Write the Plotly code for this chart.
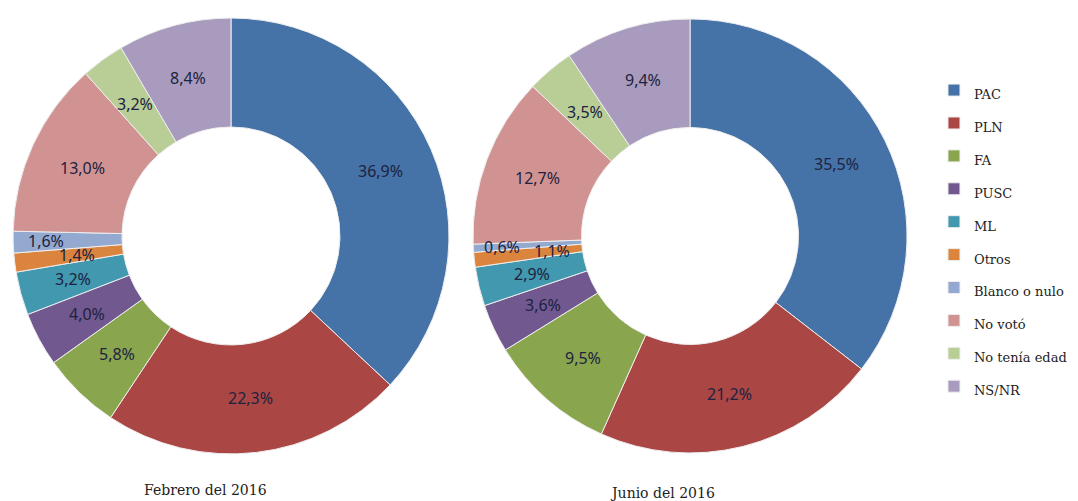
import math
import plotly.graph_objects as go

partidos = ['PAC', 'PLN', 'FA', 'PUSC', 'ML', 'Otros', 'Blanco o nulo',
            'No votó', 'No tenía edad', 'NS/NR']
febrero = [36.9, 22.3, 5.8, 4.0, 3.2, 1.4, 1.6, 13.0, 3.2, 8.4]
junio = [35.5, 21.2, 9.5, 3.6, 2.9, 1.1, 0.6, 12.7, 3.5, 9.4]
titulos = ['Febrero del 2016', 'Junio del 2016']

colores = ['#4572A7', '#AA4643', '#89A54E', '#71588F', '#4198AF',
           '#DB843D', '#93A9CF', '#D19392', '#B9CD96', '#A99BBD']

W, H = 1078, 501
HOLE = 0.5
dom_y = [0.094, 0.964]
dom_x = [[0.0121, 0.4165], [0.4388, 0.8414]]
# labels that Excel pushed in/out of the middle of the ring (fraction of radius)
ajuste = [{6: 0.1, 5: -0.04}, {6: 0.12, 5: -0.11}]


def fmt(v):
    return '{:.1f}%'.format(v).replace('.', ',')


def dona(vals, xdom, show):
    return go.Pie(
        labels=["<span style='font-size:13px'>" + p + "</span>" for p in partidos],
        values=vals,
        textinfo='none',
        hoverinfo='percent',
        hole=HOLE,
        sort=False,
        direction='clockwise',
        rotation=0,
        marker=dict(colors=colores, line=dict(color='#eeeeee', width=1)),
        domain=dict(x=xdom, y=dom_y),
        showlegend=show,
    )


def etiquetas(vals, xdom, extra):
    # place each label at the middle of its ring segment
    cx = (xdom[0] + xdom[1]) / 2 * W
    cy = (1 - (dom_y[0] + dom_y[1]) / 2) * H
    R = min((xdom[1] - xdom[0]) * W, (dom_y[1] - dom_y[0]) * H) / 2
    total = sum(vals)
    acc = 0
    out = []
    for i, v in enumerate(vals):
        ang = (acc + v / 2) / total * 2 * math.pi
        acc += v
        r = R * ((1 + HOLE) / 2 + extra.get(i, 0))
        x = cx + r * math.sin(ang)
        y = cy - r * math.cos(ang)
        out.append(dict(
            text=fmt(v), x=x / W, y=1 - y / H, xref='paper', yref='paper',
            xanchor='center', yanchor='middle', showarrow=False,
            font=dict(family='Noto Sans', size=16, color='#1d2240'),
        ))
    return out


fig = go.Figure()
fig.add_trace(dona(febrero, dom_x[0], True))
fig.add_trace(dona(junio, dom_x[1], False))

anots = etiquetas(febrero, dom_x[0], ajuste[0]) + etiquetas(junio, dom_x[1], ajuste[1])
anots += [
    dict(text=titulos[0], x=205 / W, y=1 - 490 / H, xref='paper', yref='paper',
         xanchor='center', yanchor='middle', showarrow=False,
         font=dict(family='DejaVu Serif', size=14, color='#222')),
    dict(text=titulos[1], x=662 / W, y=1 - 493 / H, xref='paper', yref='paper',
         xanchor='center', yanchor='middle', showarrow=False,
         font=dict(family='DejaVu Serif', size=14, color='#222')),
]

fig.update_layout(
    width=W,
    height=H,
    margin=dict(l=0, r=0, t=0, b=0),
    paper_bgcolor='white',
    plot_bgcolor='white',
    legend=dict(
        x=0.8664, y=0.863, xanchor='left', yanchor='top',
        font=dict(family='DejaVu Serif', size=23, color='#222'),
        valign='middle',
        itemwidth=30,
    ),
    annotations=anots,
)

fig.write_html('out.html', config={'displayModeBar': False},
               post_script="document.body.style.margin='0px';")
